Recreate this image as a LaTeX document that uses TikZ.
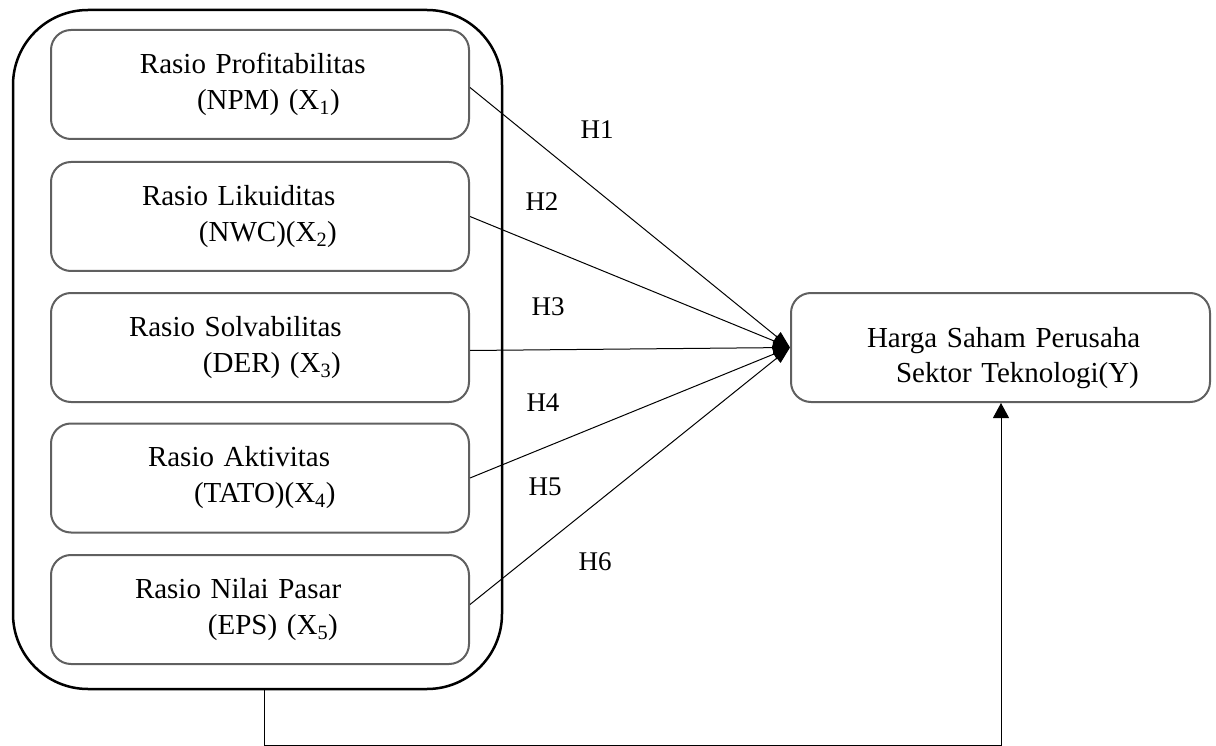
\documentclass[tikz,border=0pt]{standalone}
\usepackage{fontspec}
\setmainfont{Liberation Serif}
\usetikzlibrary{arrows.meta}
\definecolor{framegray}{RGB}{96,96,96}

\begin{document}
\begin{tikzpicture}[x=1pt, y=-1pt,
  every node/.style={font=\fontsize{29}{36}\selectfont},
  ratio/.style={draw=framegray, line width=2pt, rounded corners=20pt, minimum height=109pt, text width=418pt, inner xsep=0pt, align=left},
  hyp/.style={font=\fontsize{27}{30}\selectfont},
  link/.style={-{Triangle[length=17pt, width=12pt]}, line width=1pt},
  rise/.style={-{Triangle[length=15pt, width=16pt]}, line width=1pt}]
\useasboundingbox (0,0) rectangle (1216,746);
% frame round the five ratios
\node[draw, line width=2.5pt, rounded corners=75pt, minimum width=489pt, minimum height=679pt, inner sep=0pt] (frame) at (257.5,349.5) {};
\node[ratio] (npm) at (260,84.5) {\hspace*{89pt}Rasio Profitabilitas\\\hspace*{146pt}(NPM) (X\textsubscript{1})};
\node[ratio] (nwc) at (260,216.5) {\hspace*{91pt}Rasio Likuiditas\\\hspace*{148pt}(NWC)(X\textsubscript{2})};
\node[ratio] (der) at (260,347.5) {\hspace*{78pt}Rasio Solvabilitas\\\hspace*{152pt}(DER) (X\textsubscript{3})};
\node[ratio] (tato) at (260,478) {\hspace*{97pt}Rasio Aktivitas\\\hspace*{143pt}(TATO)(X\textsubscript{4})};
\node[ratio] (eps) at (260,609.5) {\hspace*{84pt}Rasio Nilai Pasar\\\hspace*{157pt}(EPS) (X\textsubscript{5})};
% dependent variable
\node[ratio, text width=419pt, text height=42pt, font=\fontsize{29}{35}\selectfont] (harga) at (1000.5,347.5) {\hspace*{76pt}Harga Saham Perusaha\\\hspace*{105pt}Sektor Teknologi(Y)};
% hypotheses
\node[hyp] (h1) at (597,130) {H1};
\node[hyp] (h2) at (542,202) {H2};
\node[hyp] (h3) at (548,307) {H3};
\node[hyp] (h4) at (543,403) {H4};
\node[hyp] (h5) at (545,487) {H5};
\node[hyp] (h6) at (595,562) {H6};
\draw[link] ([yshift=-3pt]npm.east) -- (harga.west);
\draw[link] (nwc.east) -- (harga.west);
\draw[link] ([yshift=-3pt]der.east) -- (harga.west);
\draw[link] (tato.east) -- (harga.west);
\draw[link] ([yshift=5pt]eps.east) -- (harga.west);
% joint effect
\coordinate (downL) at (264,745);
\coordinate (downR) at (1001,745);
\draw[rise] (frame.south -| downL) -- (downL) -- (downR) -- (harga.south -| downR);
\end{tikzpicture}
\end{document}
